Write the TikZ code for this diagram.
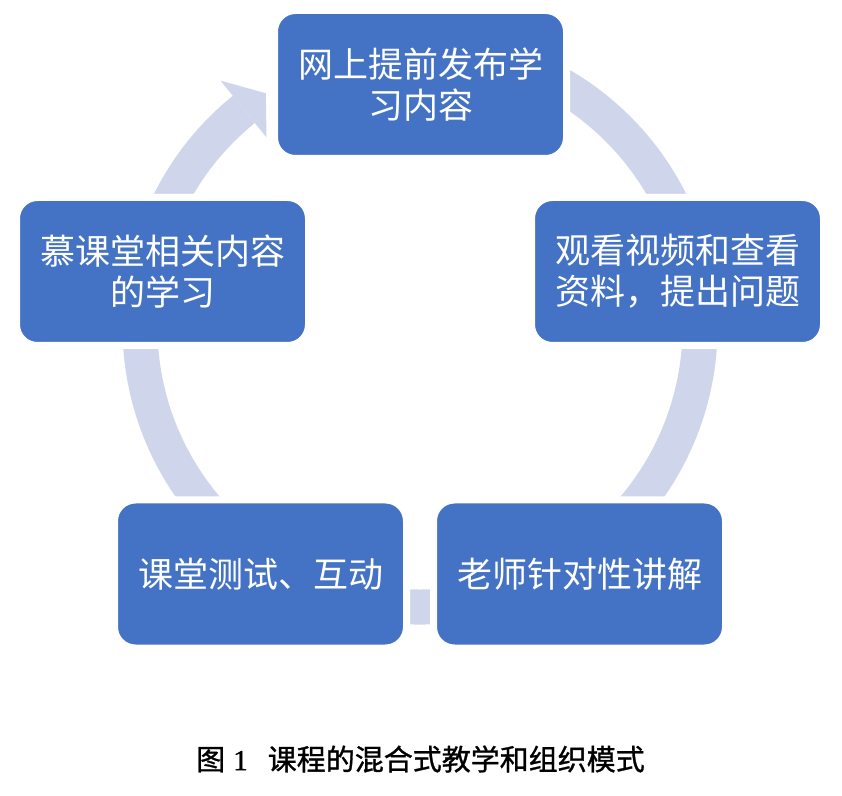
\documentclass[tikz,border=0pt]{standalone}
\usepackage{fontspec}
\newfontfamily\cjk{Noto Sans CJK SC}
\newfontfamily\capfont{Noto Sans CJK SC}[FakeBold=1]
\newfontfamily\capnum{Liberation Serif}[FakeBold=1]
\definecolor{boxblue}{RGB}{68,114,196}
\definecolor{ringc}{RGB}{207,213,234}
\tikzset{
  stepbox/.style={fill=boxblue, draw=white, line width=7pt, rounded corners=21pt,
    minimum width=292pt, minimum height=148pt, inner sep=0pt, text=white,
    align=center, font=\cjk\fontsize{35}{41}\selectfont},
  ringfill/.style={fill=ringc, draw=none}
}
\begin{document}
\begin{tikzpicture}[x=1pt,y=1pt]
\useasboundingbox (0,0) rectangle (842,795);
% cycle ring with arrow head
\begin{scope}[shift={(420,468)}]
  \fill[ringfill] (100:297.5pt) arc[start angle=100, end angle=-231, radius=297.5pt]
     -- (-231:262.5pt) arc[start angle=-231, end angle=100, radius=262.5pt] -- cycle;
  \fill[ringfill] (129:317pt) -- (123.4:280pt) -- (129:244pt) -- cycle;
\end{scope}
% steps
\node[stepbox] (top)   at (420.5,710.5) {网上提前发布学\\习内容};
\node[stepbox] (right) at (677.5,523.5) {观看视频和查看\\资料，提出问题};
\node[stepbox] (br)    at (579.5,221)   {老师针对性讲解};
\node[stepbox] (bl)    at (260.5,221)   {课堂测试、互动};
\node[stepbox] (left)  at (162.5,523.5) {慕课堂相关内容\\的学习};
% caption
\node[inner sep=0pt, font=\fontsize{29}{34}\selectfont] (cap) at (420.5,36)
  {\capfont 图\hspace{8pt}{\capnum 1}\hspace{20pt}课程的混合式教学和组织模式};
\end{tikzpicture}
\end{document}
